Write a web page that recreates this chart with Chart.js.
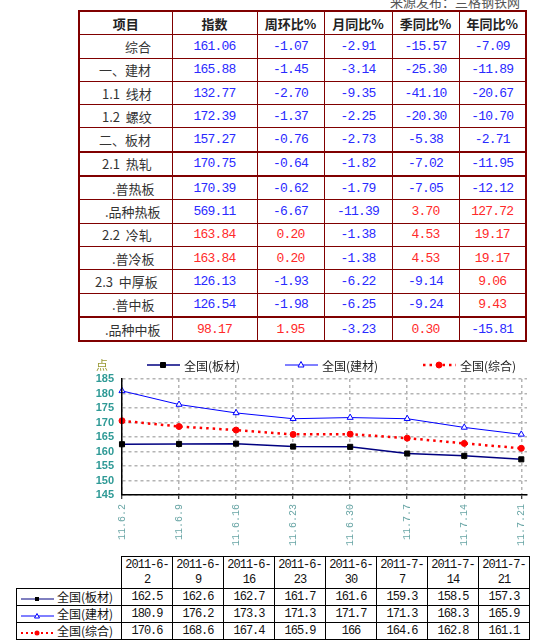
<!DOCTYPE html>
<html>
<head>
<meta charset="utf-8">
<script src="https://cdn.jsdelivr.net/npm/chart.js@4.4.0/dist/chart.umd.min.js"></script>
<style>
body { margin:0; width:550px; height:640px; overflow:hidden; background:#fff; position:relative;
  font-family:"Noto Sans CJK SC", sans-serif; }
#source { position:absolute; left:390px; top:-8px; font-size:13px; color:#555; white-space:nowrap; }
#idx { position:absolute; left:78px; top:10px; border-collapse:collapse; table-layout:fixed; border:2px solid #800000; }
#idx th, #idx td { border:1px solid #800000; padding:0; height:22.3px; line-height:15px; text-align:center; font-size:13px; white-space:nowrap; overflow:hidden; }
#idx th { font-weight:bold; color:#222; }
#idx td.lbl { text-align:left; color:#333; }
#idx tr.thick td { border-top:2px solid #800000; }
.num { font-family:"Liberation Mono", monospace; letter-spacing:-0.8px; }
.up { color:#ff2a2a; }
.down { color:#2a2aff; }
#chartBox { position:absolute; left:80px; top:350px; }
#dataTbl { position:absolute; left:16px; top:556px; border-collapse:collapse; table-layout:fixed; }
#dataTbl td { border:1px solid #000; padding:0; text-align:center; font-size:12px; color:#111; white-space:nowrap; }
#dataTbl td.corner { border-top:none; border-left:none; }
#dataTbl tr.head td { height:31px; line-height:15px; font-family:"Liberation Mono", monospace; letter-spacing:-1px; }
#dataTbl tr.row td { height:16px; line-height:16px; }
#dataTbl td.v { font-family:"Liberation Mono", monospace; letter-spacing:-1px; }
#dataTbl td.key { text-align:left; }
#dataTbl td.key svg { vertical-align:middle; margin:0 3px 0 4px; }
</style>
</head>
<body>
<div id="source">来源发布：兰格钢铁网</div>
<table id="idx"></table>
<div id="chartBox"><canvas id="trend" width="465" height="200"></canvas></div>
<table id="dataTbl"></table>
<script>
// --- index table ---
const headers = ['项目', '指数', '周环比%', '月同比%', '季同比%', '年同比%'];
const items = ['综合', '一、建材', '1.1 线材', '1.2 螺纹', '二、板材', '2.1 热轧', '.普热板', '.品种热板', '2.2 冷轧', '.普冷板', '2.3 中厚板', '.普中板', '.品种中板'];
const indexVals = [161.06, 165.88, 132.77, 172.39, 157.27, 170.75, 170.39, 569.11, 163.84, 163.84, 126.13, 126.54, 98.17];
const weekChg = [-1.07, -1.45, -2.70, -1.37, -0.76, -0.64, -0.62, -6.67, 0.20, 0.20, -1.93, -1.98, 1.95];
const monthChg = [-2.91, -3.14, -9.35, -2.25, -2.73, -1.82, -1.79, -11.39, -1.38, -1.38, -6.22, -6.25, -3.23];
const quarterChg = [-15.57, -25.30, -41.10, -20.30, -5.38, -7.02, -7.05, 3.70, 4.53, 4.53, -9.14, -9.24, 0.30];
const yearChg = [-7.09, -11.89, -20.67, -10.70, -2.71, -11.95, -12.12, 127.72, 19.17, 19.17, 9.06, 9.43, -15.81];

// --- trend chart ---
const dates = ['2011-6-2', '2011-6-9', '2011-6-16', '2011-6-23', '2011-6-30', '2011-7-7', '2011-7-14', '2011-7-21'];
const tickLabels = ['11.6.2', '11.6.9', '11.6.16', '11.6.23', '11.6.30', '11.7.7', '11.7.14', '11.7.21'];
const seriesNames = ['全国(板材)', '全国(建材)', '全国(综合)'];
const plate = [162.5, 162.6, 162.7, 161.7, 161.6, 159.3, 158.5, 157.3];
const building = [180.9, 176.2, 173.3, 171.3, 171.7, 171.3, 168.3, 165.9];
const overall = [170.6, 168.6, 167.4, 165.9, 166, 164.6, 162.8, 161.1];
const yTicks = [145, 150, 155, 160, 165, 170, 175, 180, 185];

// layout bits (not data)
const colWidths = [93, 85, 67, 68, 67, 67];
const labelIndent = [45, 19, 22, 22, 19, 22, 32, 25, 22, 32, 15, 32, 25];
const thickRows = [5, 6, 12];

function numCell(v, ref) {
  const cls = (ref !== undefined ? ref : v) > 0 ? 'up' : 'down';
  return '<td class="num ' + cls + '">' + v.toFixed(2) + '</td>';
}

const idx = document.getElementById('idx');
let html = '<colgroup>' + colWidths.map(w => '<col style="width:' + w + 'px">').join('') + '</colgroup>';
html += '<tr>' + headers.map(h => '<th>' + h + '</th>').join('') + '</tr>';
items.forEach((name, i) => {
  html += '<tr' + (thickRows.includes(i) ? ' class="thick"' : '') + '>';
  html += '<td class="lbl" style="padding-left:' + labelIndent[i] + 'px">' + name.replace(/^(\d\.\d) /, '$1&nbsp; ') + '</td>';
  html += numCell(indexVals[i], weekChg[i]);
  html += numCell(weekChg[i]) + numCell(monthChg[i]) + numCell(quarterChg[i]) + numCell(yearChg[i]);
  html += '</tr>';
});
idx.innerHTML = html;

const seriesData = [plate, building, overall];
const seriesStyle = [
  { line: '#000080', width: 1.5, dash: [], marker: 'rect', fill: '#000', stroke: '#000' },
  { line: '#0000ff', width: 1, dash: [], marker: 'triangle', fill: '#fff', stroke: '#0000ff' },
  { line: '#ff0000', width: 2.5, dash: [2.5, 4], marker: 'circle', fill: '#ff0000', stroke: '#ff0000' }
];

function drawMarker(ctx, type, x, y, fill, stroke) {
  ctx.save();
  ctx.setLineDash([]);
  ctx.lineWidth = 1;
  ctx.fillStyle = fill;
  ctx.strokeStyle = stroke;
  ctx.beginPath();
  if (type === 'rect') {
    ctx.rect(x - 2.5, y - 2.5, 5, 5);
  } else if (type === 'triangle') {
    ctx.moveTo(x, y - 3.5);
    ctx.lineTo(x + 3, y + 2);
    ctx.lineTo(x - 3, y + 2);
    ctx.closePath();
  } else {
    ctx.arc(x, y, 3, 0, Math.PI * 2);
  }
  ctx.fill();
  ctx.stroke();
  ctx.restore();
}

// Legend on top of the plot, Excel style: line with marker in the middle
const topLegend = {
  id: 'topLegend',
  afterDraw(chart) {
    const ctx = chart.ctx;
    const starts = [67, 205, 343];
    const y = 15;
    ctx.save();
    ctx.font = '12px "Noto Sans CJK SC"';
    ctx.textBaseline = 'middle';
    ctx.fillStyle = '#999933';
    ctx.textAlign = 'center';
    ctx.fillText('点', 22, y);
    ctx.textAlign = 'left';
    seriesNames.forEach((name, i) => {
      const st = seriesStyle[i];
      const x0 = starts[i];
      ctx.save();
      ctx.strokeStyle = st.line;
      ctx.lineWidth = st.width;
      ctx.setLineDash(st.dash);
      ctx.beginPath();
      ctx.moveTo(x0, y);
      ctx.lineTo(x0 + 33, y);
      ctx.stroke();
      ctx.restore();
      drawMarker(ctx, st.marker, x0 + 16, y, st.fill, st.stroke);
      ctx.fillStyle = '#222';
      ctx.fillText(name, x0 + 37, y + 1);
    });
    ctx.restore();
  }
};

new Chart(document.getElementById('trend'), {
  type: 'line',
  data: {
    datasets: seriesNames.map((name, i) => ({
      label: name,
      data: seriesData[i].map((v, j) => ({ x: j, y: v })),
      borderColor: seriesStyle[i].line,
      borderWidth: seriesStyle[i].width,
      borderDash: seriesStyle[i].dash,
      pointStyle: seriesStyle[i].marker,
      pointRadius: seriesStyle[i].marker === 'rect' ? 3.6 : (seriesStyle[i].marker === 'triangle' ? 3.5 : 3),
      pointBackgroundColor: seriesStyle[i].fill,
      pointBorderColor: seriesStyle[i].stroke,
      pointBorderWidth: 1,
      tension: 0,
      clip: false
    }))
  },
  options: {
    responsive: false,
    animation: false,
    layout: { padding: { top: 29, right: 18, left: 0, bottom: 0 } },
    plugins: { legend: { display: false }, tooltip: { enabled: false } },
    scales: {
      x: {
        type: 'linear',
        min: 0,
        max: 7.1,
        afterBuildTicks: s => { s.ticks = tickLabels.map((_, i) => ({ value: i })); },
        afterFit: s => { s.height = 55; },
        ticks: {
          autoSkip: false,
          minRotation: 90,
          maxRotation: 90,
          padding: 5,
          color: '#6aa6a6',
          font: { family: 'Liberation Mono', size: 10 },
          callback: v => tickLabels[v]
        },
        grid: { color: '#b4b4b4', lineWidth: 1.5, tickColor: '#000', tickLength: 4, tickWidth: 1 },
        border: { color: '#000', width: 1.5, dash: [3, 3], z: 1 }
      },
      y: {
        min: yTicks[0],
        max: yTicks[yTicks.length - 1],
        afterBuildTicks: s => { s.ticks = yTicks.map(v => ({ value: v })); },
        afterFit: s => { s.width = 42; },
        ticks: {
          autoSkip: false,
          padding: 8,
          color: '#2f9a96',
          font: { family: 'Liberation Sans', size: 11, weight: 'bold' }
        },
        grid: { color: '#b4b4b4', lineWidth: 1.5, drawTicks: false },
        border: { color: '#000', width: 1.5, dash: [3, 3], z: 1 }
      }
    }
  },
  plugins: [topLegend]
});

// --- data table under the chart ---
function keySvg(st) {
  let m;
  if (st.marker === 'rect') m = '<rect x="14" y="3" width="4" height="4" fill="' + st.fill + '"/>';
  else if (st.marker === 'triangle') m = '<path d="M16 2.5 L18.5 7 L13.5 7 Z" fill="#fff" stroke="' + st.stroke + '" stroke-width="1"/>';
  else m = '<circle cx="16" cy="5" r="2.5" fill="' + st.fill + '"/>';
  const dash = st.dash.length ? ' stroke-dasharray="2,3"' : '';
  return '<svg width="33" height="10"><line x1="0" y1="5" x2="33" y2="5" stroke="' + st.line + '" stroke-width="' +
    (st.dash.length ? 2 : 1) + '"' + dash + '/>' + m + '</svg>';
}

const dataTbl = document.getElementById('dataTbl');
let t = '<colgroup><col style="width:105px">' + dates.map(() => '<col style="width:51px">').join('') + '</colgroup>';
t += '<tr class="head"><td class="corner"></td>' + dates.map(d => '<td>' + d.replace(/-(\d+)$/, '-<br>$1') + '</td>').join('') + '</tr>';
seriesNames.forEach((name, i) => {
  t += '<tr class="row"><td class="key">' + keySvg(seriesStyle[i]) + name + '</td>' +
    seriesData[i].map(v => '<td class="v">' + v + '</td>').join('') + '</tr>';
});
dataTbl.innerHTML = t;
</script>
</body>
</html>
